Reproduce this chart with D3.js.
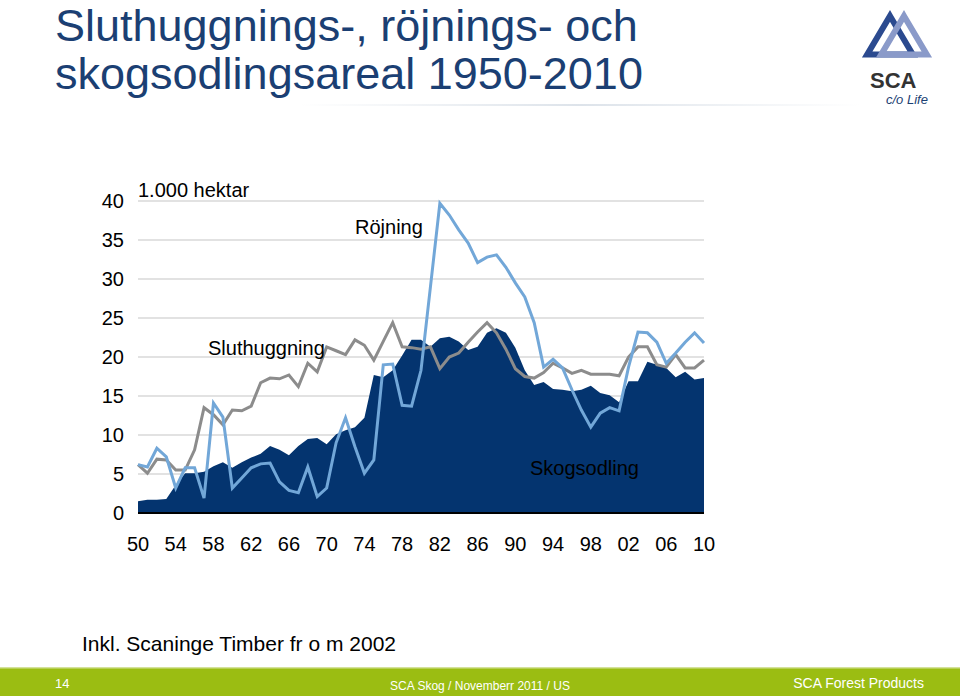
<!DOCTYPE html>
<html><head><meta charset="utf-8">
<script src="https://cdn.jsdelivr.net/npm/d3@7"></script>
<style>body{margin:0;background:#fff;font-family:"Liberation Sans",Arial,sans-serif}</style>
</head><body><svg id="c" width="960" height="696"></svg>
<script>
const years = d3.range(1950, 2011);
const skogsodling = [1.5,1.7,1.7,1.8,3.6,5.1,5.1,5.3,6.0,6.5,5.8,6.5,7.1,7.6,8.6,8.1,7.4,8.6,9.5,9.6,8.8,10.1,10.6,11,12.2,17.7,17.4,18.3,20.2,22.2,22.2,21.3,22.4,22.6,22,20.9,21.3,23.1,23.7,23.1,21.2,18.3,16.4,16.8,15.9,15.8,15.6,15.8,16.3,15.4,15.1,14.2,16.9,16.9,19.4,19,18.6,17.4,18.1,17.1,17.3];
const sluthuggning = [6.2,5.1,6.9,6.8,5.5,5.5,8.1,13.5,12.6,11.3,13.2,13.1,13.7,16.7,17.3,17.2,17.7,16.2,19.2,18.1,21.3,20.8,20.3,22.2,21.5,19.6,22,24.4,21.3,21.2,21,21.3,18.5,20,20.5,21.9,23.2,24.4,23.1,21,18.5,17.5,17.3,18,19.2,18.6,17.9,18.3,17.8,17.8,17.8,17.6,20,21.3,21.3,19,18.7,20.3,18.6,18.6,19.6];
const rojning = [6.2,5.9,8.3,7.2,3.2,5.8,5.8,1.9,14.1,12.3,3.2,4.5,5.8,6.3,6.4,4,2.9,2.6,5.9,2.1,3.2,9,12.2,8.5,5.1,6.8,19,19.1,13.8,13.7,18.3,29,39.7,38.2,36.3,34.6,32.1,32.8,33.1,31.5,29.5,27.7,24.4,18.7,19.7,18.6,15.8,13.2,11,12.8,13.5,13.1,18.7,23.2,23.1,21.9,19.2,20.5,21.9,23.1,21.8];
const yTicks = [0,5,10,15,20,25,30,35,40];
const xTickLabels = ["50","54","58","62","66","70","74","78","82","86","90","94","98","02","06","10"];

const svg = d3.select("#c");
const x = d3.scaleLinear().domain([1950,2010]).range([138,704]);
const y = d3.scaleLinear().domain([0,40]).range([513,201]);

const t = svg.append("text").attr("fill","#1b3f73").attr("font-size",45);
t.append("tspan").attr("x",55).attr("y",41).text("Sluthuggnings-, röjnings- och");
t.append("tspan").attr("x",55).attr("y",89).text("skogsodlingsareal 1950-2010");
const g0 = svg.append("defs").append("linearGradient").attr("id","gl");
g0.append("stop").attr("offset","0").attr("stop-color","#fff");
g0.append("stop").attr("offset","0.5").attr("stop-color","#dde3ea");
g0.append("stop").attr("offset","1").attr("stop-color","#fff");
svg.append("rect").attr("x",300).attr("y",104).attr("width",560).attr("height",2).attr("fill","url(#gl)");

const lg = svg.append("g");
const tri = (cx,cy,s,c)=>lg.append("path").attr("d",`M${cx},${cy-s}L${cx+s*0.95},${cy+s*0.6}L${cx-s*0.95},${cy+s*0.6}Z`).attr("fill","none").attr("stroke",c).attr("stroke-width",6);
tri(890,40,24,"#2b4a8f"); tri(904,40,24,"#8a9ac9");
lg.append("text").attr("x",870).attr("y",88).attr("font-size",22).attr("fill","#333").attr("font-weight","bold").text("SCA");
lg.append("text").attr("x",886).attr("y",104).attr("font-size",13).attr("fill","#1b3f73").attr("font-style","italic").text("c/o Life");

svg.append("g").selectAll("line").data(yTicks.filter(d=>d>0)).join("line")
 .attr("x1",138).attr("x2",704).attr("y1",d=>y(d)).attr("y2",d=>y(d)).attr("stroke","#d9d9d9").attr("stroke-width",1.5);

svg.append("path").datum(skogsodling).attr("fill","#04346f")
 .attr("d",d3.area().x((d,i)=>x(years[i])).y0(y(0)).y1(d=>y(d)));
const line = d3.line().x((d,i)=>x(years[i])).y(d=>y(d));
svg.append("path").datum(sluthuggning).attr("fill","none").attr("stroke","#8c8c8c").attr("stroke-width",3).attr("d",line);
svg.append("path").datum(rojning).attr("fill","none").attr("stroke","#72a7d8").attr("stroke-width",3).attr("d",line);
svg.append("line").attr("x1",138).attr("x2",704).attr("y1",y(0)).attr("y2",y(0)).attr("stroke","#000").attr("stroke-width",2);

svg.append("g").selectAll("text").data(yTicks).join("text")
 .attr("x",124).attr("y",d=>y(d)+7).attr("text-anchor","end").attr("font-size",20).attr("fill","#000").text(d=>d);
svg.append("g").selectAll("text").data(xTickLabels).join("text")
 .attr("x",(d,i)=>x(1950+i*4)).attr("y",551).attr("text-anchor","middle").attr("font-size",20).text(d=>d);

svg.append("text").attr("x",138).attr("y",197).attr("font-size",20).text("1.000 hektar");
svg.append("text").attr("x",355).attr("y",234).attr("font-size",20).text("Röjning");
svg.append("text").attr("x",208).attr("y",355).attr("font-size",20).text("Sluthuggning");
svg.append("text").attr("x",530).attr("y",475).attr("font-size",20).text("Skogsodling");
svg.append("text").attr("x",82).attr("y",651).attr("font-size",21).text("Inkl. Scaninge Timber fr o m 2002");

svg.append("rect").attr("x",0).attr("y",668).attr("width",960).attr("height",28).attr("fill","#9bbd12");
svg.append("rect").attr("x",0).attr("y",667).attr("width",960).attr("height",1.5).attr("fill","#d4e29a");
svg.append("text").attr("x",55).attr("y",688).attr("font-size",13).attr("fill","#fff").text("14");
svg.append("text").attr("x",480).attr("y",690).attr("text-anchor","middle").attr("font-size",12).attr("fill","#fff").text("SCA Skog / Novemberr 2011 / US");
svg.append("text").attr("x",924).attr("y",688).attr("text-anchor","end").attr("font-size",14).attr("fill","#fff").text("SCA Forest Products");
</script></body></html>
